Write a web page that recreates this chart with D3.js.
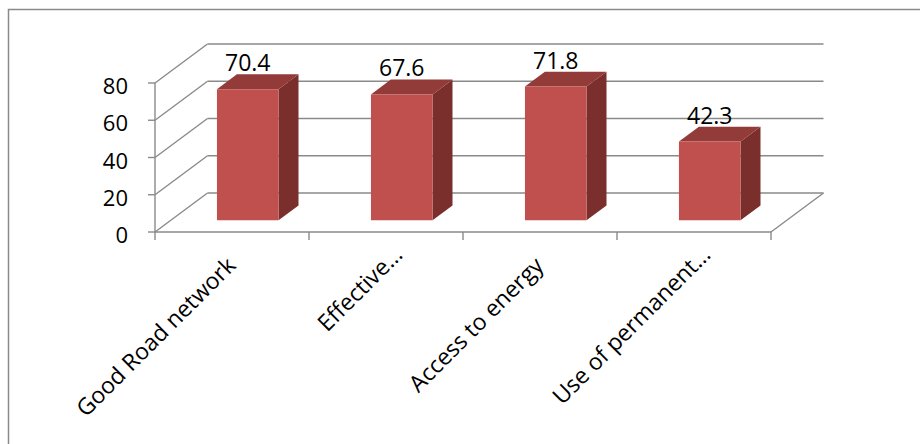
<!DOCTYPE html>
<html>
<head>
<meta charset="utf-8">
<script src="https://cdn.jsdelivr.net/npm/d3@7"></script>
<style>
  html, body { margin: 0; padding: 0; background: #fff; }
  svg { display: block; }
  text { font-family: "Open Sans", "Noto Sans", sans-serif; fill: #000; }
</style>
</head>
<body>
<svg id="chart" width="920" height="444"></svg>
<script>
// ---- data ----
const categories = ["Good Road network", "Effective…", "Access to energy", "Use of permanent…"];
const values = [70.4, 67.6, 71.8, 42.3];
const yTicks = [0, 20, 40, 60, 80];

// ---- layout ----
const svg = d3.select("#chart");
const W = 920, H = 444;
const front = { left: 155, right: 771, bottom: 232, top: 83 };
const depthDX = 52.5, depthDY = -39;   // offset of back wall
const barDepth0 = 0.30, barDepth1 = 0.68;
const barWidthFrac = 0.40;

const x = d3.scaleBand().domain(categories).range([front.left, front.right]).paddingInner(0).paddingOuter(0);
const y = d3.scaleLinear().domain([0, 80]).range([front.bottom, front.top]);
const proj = (px, py, d) => [px + d * depthDX, py + d * depthDY];

const gridColor = "#8a8a8a";

// outer chart frame
svg.append("rect")
  .attr("x", 8.5).attr("y", 9.5).attr("width", W).attr("height", H)
  .attr("fill", "none").attr("stroke", "#8a8a8a").attr("stroke-width", 1.5);

const grid = svg.append("g").attr("stroke", gridColor).attr("stroke-width", 1.4).attr("fill", "none");

// back wall gridlines + left side-wall diagonals
yTicks.forEach(t => {
  const yy = y(t);
  const b0 = proj(front.left, yy, 1);
  const b1 = proj(front.right, yy, 1);
  grid.append("line").attr("x1", b0[0]).attr("y1", b0[1]).attr("x2", b1[0]).attr("y2", b1[1]);
  grid.append("line").attr("x1", front.left).attr("y1", yy).attr("x2", b0[0]).attr("y2", b0[1]);
});
// floor: front edge and right diagonal
{
  const yy = y(0);
  const br = proj(front.right, yy, 1);
  grid.append("line").attr("x1", front.left).attr("y1", yy).attr("x2", front.right).attr("y2", yy);
  grid.append("line").attr("x1", front.right).attr("y1", yy).attr("x2", br[0]).attr("y2", br[1]);
}
// front vertical axis
grid.append("line").attr("x1", front.left).attr("y1", y(0)).attr("x2", front.left).attr("y2", y(80));

// y ticks & labels
const yAxis = svg.append("g");
yTicks.forEach(t => {
  yAxis.append("line").attr("x1", front.left - 7).attr("x2", front.left)
    .attr("y1", y(t)).attr("y2", y(t)).attr("stroke", gridColor).attr("stroke-width", 1.4);
  yAxis.append("text").attr("x", 128).attr("y", y(t) + 11)
    .attr("text-anchor", "end").attr("font-size", 22).text(t);
});

// x ticks at category boundaries
const bounds = categories.map(c => x(c)).concat([front.right]);
bounds.forEach(bx => {
  svg.append("line").attr("x1", bx).attr("x2", bx).attr("y1", y(0)).attr("y2", y(0) + 8)
    .attr("stroke", gridColor).attr("stroke-width", 1.4);
});

// bars
const colFront = "#c0504d", colTop = "#923b38", colSide = "#7b2f2d";
const bars = svg.append("g");
categories.forEach((c, i) => {
  const v = values[i];
  const bw = x.bandwidth() * barWidthFrac;
  const cx = x(c) + x.bandwidth() / 2;
  const xl = cx - bw / 2, xr = cx + bw / 2;
  const y0 = y(0), y1 = y(v);
  const fBL = proj(xl, y0, barDepth0), fBR = proj(xr, y0, barDepth0);
  const fTL = proj(xl, y1, barDepth0), fTR = proj(xr, y1, barDepth0);
  const bTL = proj(xl, y1, barDepth1), bTR = proj(xr, y1, barDepth1), bBR = proj(xr, y0, barDepth1);
  const g = bars.append("g");
  g.append("path").attr("d", d3.line()([fTR, bTR, bBR, fBR])).attr("fill", colSide);
  g.append("path").attr("d", d3.line()([fTL, bTL, bTR, fTR])).attr("fill", colTop);
  g.append("path").attr("d", d3.line()([fBL, fTL, fTR, fBR])).attr("fill", colFront);
  svg.append("text").attr("x", (fTL[0] + fTR[0]) / 2).attr("y", fTL[1] - 18)
    .attr("text-anchor", "middle").attr("font-size", 23).text(v);
});

// category labels rotated -45
categories.forEach(c => {
  const cx = x(c) + x.bandwidth() / 2;
  const truncated = c.endsWith("…");
  const px = cx + (truncated ? 18 : 5);
  const py = y(0) + (truncated ? 24 : 35);
  svg.append("text")
    .attr("transform", `translate(${px},${py}) rotate(-45)`)
    .attr("text-anchor", "end").attr("font-size", 23).text(c);
});
</script>
</body>
</html>
